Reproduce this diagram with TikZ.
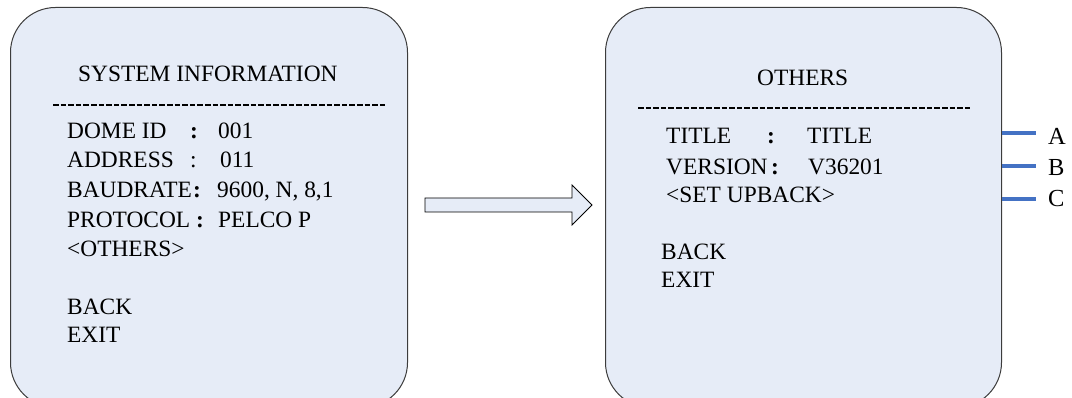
\documentclass[tikz,border=0pt]{standalone}
\usepackage{fontspec}
\setmainfont{Liberation Serif}
\definecolor{panel}{RGB}{230,236,247}
\definecolor{edgegray}{RGB}{60,60,60}
\definecolor{tickblue}{RGB}{68,114,196}
\begin{document}
\begin{tikzpicture}[x=1pt,y=-1pt,
  txt/.style={anchor=base west,inner sep=0pt,font=\fontsize{23.4}{28}\selectfont},
  colon/.style={anchor=base west,inner sep=0pt,font=\fontsize{23.4}{28}\selectfont\bfseries},
  lbl/.style={anchor=base west,inner sep=0pt,font=\fontsize{24.5}{29}\selectfont},
  panelbox/.style={draw=edgegray,fill=panel,rounded corners=45pt,line width=1pt,inner sep=0pt,anchor=north west},
  dashrow/.style={line width=1.5pt,dash pattern=on 5.6pt off 2pt},
  bigarrow/.style={draw=black,fill=panel,line width=0.8pt},
  tickline/.style={draw=tickblue,line width=4pt}]
\useasboundingbox (0,0) rectangle (1072,398);
\clip (0,0) rectangle (1072,398);
% panels
\node[panelbox,minimum width=397pt,minimum height=400pt] (left) at (10,7) {};
\node[panelbox,minimum width=396pt,minimum height=400pt] (right) at (605,7) {};
% left panel text
\node[txt] (ltitle) at (78,82) {SYSTEM INFORMATION};
\draw[dashrow] (53,105) -- (386,105);
\node[txt] (l1) at (67,139) {DOME ID};
\node[colon] (l1c) at (190,139) {:};
\node[txt] (l1v) at (218,139) {001};
\node[txt] (l2) at (67,168) {ADDRESS};
\node[txt] (l2c) at (190,168) {:};
\node[txt] (l2v) at (220,168) {011};
\node[txt] (l3) at (67,198) {BAUDRATE};
\node[colon] (l3c) at (193,198) {:};
\node[txt] (l3v) at (217,198) {9600, N, 8,1};
\node[txt] (l4) at (67,228) {PROTOCOL};
\node[colon] (l4c) at (196,228) {:};
\node[txt] (l4v) at (218,228) {PELCO P};
\node[txt] (l5) at (67,257) {<OTHERS>};
\node[txt] (l6) at (67,315) {BACK};
\node[txt] (l7) at (67,342) {EXIT};
% arrow
\draw[bigarrow] (425,198) -- (572,198) -- (572,185) -- (592,205) -- (572,225) -- (572,212) -- (425,212) -- cycle;
% right panel text
\node[txt] (rtitle) at (757,86) {OTHERS};
\draw[dashrow] (638,108) -- (970,108);
\node[txt] (r1) at (666,144) {TITLE};
\node[colon] (r1c) at (767,144) {:};
\node[txt] (r1v) at (807,144) {TITLE};
\node[txt] (r2) at (666,175) {VERSION};
\node[colon] (r2c) at (771,175) {:};
\node[txt] (r2v) at (808,175) {V36201};
\node[txt] (r3) at (666,203) {<SET UPBACK>};
\node[txt] (r4) at (661,260) {BACK};
\node[txt] (r5) at (661,288) {EXIT};
% side markers
\coordinate (a0) at (1002,133); \coordinate (a1) at (1036,133);
\coordinate (b0) at (1002,166); \coordinate (b1) at (1036,166);
\coordinate (c0) at (1002,199); \coordinate (c1) at (1036,199);
\draw[tickline] (a0) -- (a1);
\draw[tickline] (b0) -- (b1);
\draw[tickline] (c0) -- (c1);
\node[lbl] (la) at (1048,145) {A};
\node[lbl] (lb) at (1048,176) {B};
\node[lbl] (lc) at (1048,207) {C};
\end{tikzpicture}
\end{document}
